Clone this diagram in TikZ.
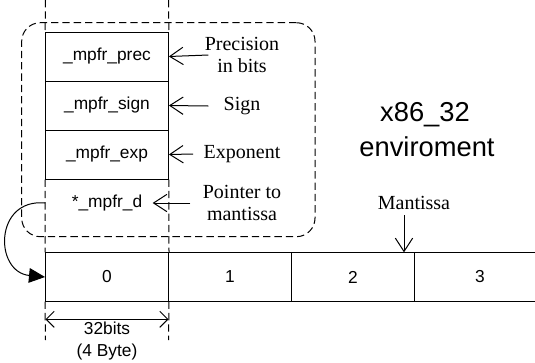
\documentclass[tikz,border=0pt]{standalone}
\usepackage{fontspec}
\setmainfont{Liberation Serif}
\setsansfont{Liberation Sans}
\usetikzlibrary{arrows.meta}
\begin{document}
\begin{tikzpicture}[x=0.75pt,y=-0.75pt,line width=0.75pt,
  cellbox/.style={draw,minimum width=92.1pt,minimum height=36.75pt,inner sep=0pt,
    font=\sffamily\fontsize{13}{15}\selectfont},
  arrcell/.style={draw,minimum height=36.2pt,inner sep=0pt,
    font=\sffamily\fontsize{13}{15}\selectfont},
  sanstext/.style={inner sep=0pt,font=\sffamily\fontsize{13}{15}\selectfont},
  lbl/.style={inner sep=0pt,align=center,font=\fontsize{15}{17}\selectfont},
  bigtext/.style={inner sep=0pt,anchor=base,font=\sffamily\fontsize{20.5}{22}\selectfont},
  guide/.style={dash pattern=on 5.5pt off 3pt},
  barb/.style={-{Straight Barb[length=10pt,width=13pt]}},
  dimarrow/.style={{Straight Barb[length=6pt,width=12pt]}-{Straight Barb[length=6pt,width=12pt]}}]
\useasboundingbox (0,0) rectangle (535,362);

% group outline
\node[draw,guide,rounded corners=14pt,minimum width=220pt,minimum height=160.5pt,inner sep=0pt] (grp) at (168.35,129.7) {};

% struct fields
\node[cellbox] (prec) at (107,56.5) {\_mpfr\_prec};
\node[cellbox] (sign) at (107,105.5) {\_mpfr\_sign};
\node[cellbox] (exp) at (107,154.5) {\_mpfr\_exp};
\node[sanstext] (ptr) at (107,203) {*\_mpfr\_d};

% array
\node[arrcell,minimum width=92.25pt] (c0) at (107,277) {0};
\node[arrcell,minimum width=92.25pt] (c1) at (230,277) {1};
\node[arrcell,minimum width=92.25pt] (c2) at (353,277) {2};
\node[arrcell,minimum width=99pt] (c3) at (480,277) {3};

% guide lines
\coordinate (tl) at (45.5,0);
\coordinate (tr) at (168.5,0);
\coordinate (bl) at (45.5,340);
\coordinate (br) at (168.5,340);
\draw[guide] (tl) -- (prec.north west);
\draw[guide] (tr) -- (prec.north east);
\draw[guide] (exp.south west) -- (c0.north west);
\draw[guide] (exp.south east) -- (c0.north east);
\draw[guide] (c0.south west) -- (bl);
\draw[guide] (c0.south east) -- (br);

% labels
\node[lbl] (precl) at (242,55) {Precision\\in bits};
\node[lbl] (signl) at (242,106) {Sign};
\node[lbl] (expl) at (242,154) {Exponent};
\node[lbl] (ptrl) at (242,203) {Pointer to\\mantissa};
\node[lbl] (mant) at (414,203) {Mantissa};

\draw[barb] ([xshift=3pt]precl.west) -- (prec.east);
\draw[barb] ([xshift=-11pt]signl.west) -- (sign.east);
\draw[barb] ([xshift=-7.5pt]expl.west) -- (exp.east);
\draw[barb] ([xshift=-9pt]ptrl.west) -- ([xshift=7.5pt]ptr.east);

\coordinate (mtop) at (404,215);
\draw[barb] (mtop) -- (mtop |- c2.north);

% pointer to first limb
\draw[-{Triangle[length=12pt,width=11pt]}] (exp.south west |- ptr) .. controls (-6,198) and (-6,272) .. (c0.west);

% size dimension
\coordinate (dimL) at (45.5,319.3);
\coordinate (dimR) at (168.5,319.3);
\draw[dimarrow] (dimL) -- (dimR);
\node[sanstext,anchor=base] (bits) at (107,334) {32bits};
\node[sanstext,anchor=base] (bytes) at (107,356) {(4 Byte)};

% environment title
\node[bigtext] (x86) at (425,121.7) {x86\_32};
\node[bigtext] (env) at (427,156.7) {enviroment};
\end{tikzpicture}
\end{document}
